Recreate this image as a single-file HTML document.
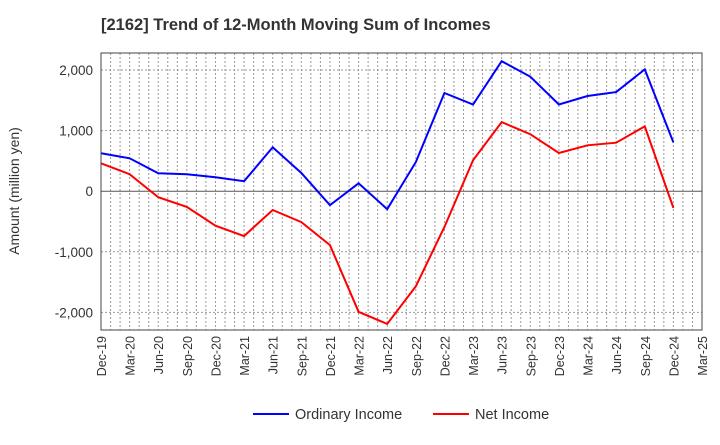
<!DOCTYPE html>
<html><head><meta charset="utf-8"><style>
body{margin:0;background:#fff;font-family:"Liberation Sans",sans-serif;}
</style></head><body>
<svg id="chart" width="720" height="440" xmlns="http://www.w3.org/2000/svg">
<text x="101" y="30" font-size="16.5" font-weight="bold" fill="#333">[2162]  Trend of 12-Month Moving Sum of Incomes</text>
<text transform="translate(19,191) rotate(-90)" text-anchor="middle" font-size="14" fill="#333">Amount (million yen)</text>
<g id="grid"></g><g id="series"></g><g id="axes"></g>
<g>
<line x1="253" y1="414" x2="289" y2="414" stroke="#0000ff" stroke-width="2"/>
<text x="295" y="419" font-size="14.5" fill="#333">Ordinary Income</text>
<line x1="433" y1="414" x2="469" y2="414" stroke="#ff0000" stroke-width="2"/>
<text x="475" y="419" font-size="14.5" fill="#333">Net Income</text>
</g>
</svg>
<script>
const categories=["Dec-19","Mar-20","Jun-20","Sep-20","Dec-20","Mar-21","Jun-21","Sep-21","Dec-21","Mar-22","Jun-22","Sep-22","Dec-22","Mar-23","Jun-23","Sep-23","Dec-23","Mar-24","Jun-24","Sep-24","Dec-24","Mar-25"];
const ordinaryIncome=[626,543,296,280,230,165,725,300,-230,130,-296,480,1620,1430,2145,1890,1430,1570,1635,2010,805];
const netIncome=[460,280,-100,-260,-570,-740,-310,-510,-890,-1990,-2190,-1570,-590,510,1140,940,630,757,800,1070,-275];
const yTicks=[2000,1000,0,-1000,-2000];
const yTickLabels=["2,000","1,000","0","-1,000","-2,000"];
const L=101,R=702,T=53,B=330,yMax=2280,yMin=-2290;
const NS="http://www.w3.org/2000/svg";
const step=(R-L)/(categories.length-1);
const x=i=>L+i*step;
const y=v=>T+(yMax-v)/(yMax-yMin)*(B-T);
function mk(tag,attrs,parent){const e=document.createElementNS(NS,tag);for(const k in attrs)e.setAttribute(k,attrs[k]);document.getElementById(parent).appendChild(e);return e;}
for(let m=1;m<(categories.length-1)*3;m++){const xx=L+m*step/3;
const g=mk("line",{x1:xx,x2:xx,y1:T,y2:B,stroke:"#999","stroke-width":1,"stroke-dasharray":"2,2"},"grid");

}
yTicks.forEach((v,i)=>{
const g=mk("line",{x1:L,x2:R,y1:y(v),y2:y(v),stroke:v===0?"#555":"#999","stroke-width":1,"stroke-dasharray":v===0?"":"2,2"},"grid");


const t=mk("text",{x:L-8,y:y(v)+5,"text-anchor":"end","font-size":13.5,fill:"#333"},"axes");
t.textContent=yTickLabels[i];

});
categories.forEach((c,i)=>{
const t=mk("text",{transform:`translate(${x(i)+5},${B+6}) rotate(-90)`,"text-anchor":"end","font-size":12.5,fill:"#333"},"axes");
t.textContent=c;

});
const fr=mk("rect",{x:L,y:T,width:R-L,height:B-T,fill:"none",stroke:"#444","stroke-width":1},"axes");


function line(data,color,name){
const p=mk("polyline",{points:data.map((v,i)=>x(i)+","+y(v)).join(" "),fill:"none",stroke:color,"stroke-width":2},"series");

}
line(ordinaryIncome,"#0000ff","ordinary-income-line");
line(netIncome,"#ff0000","net-income-line");
</script>
</body></html>
